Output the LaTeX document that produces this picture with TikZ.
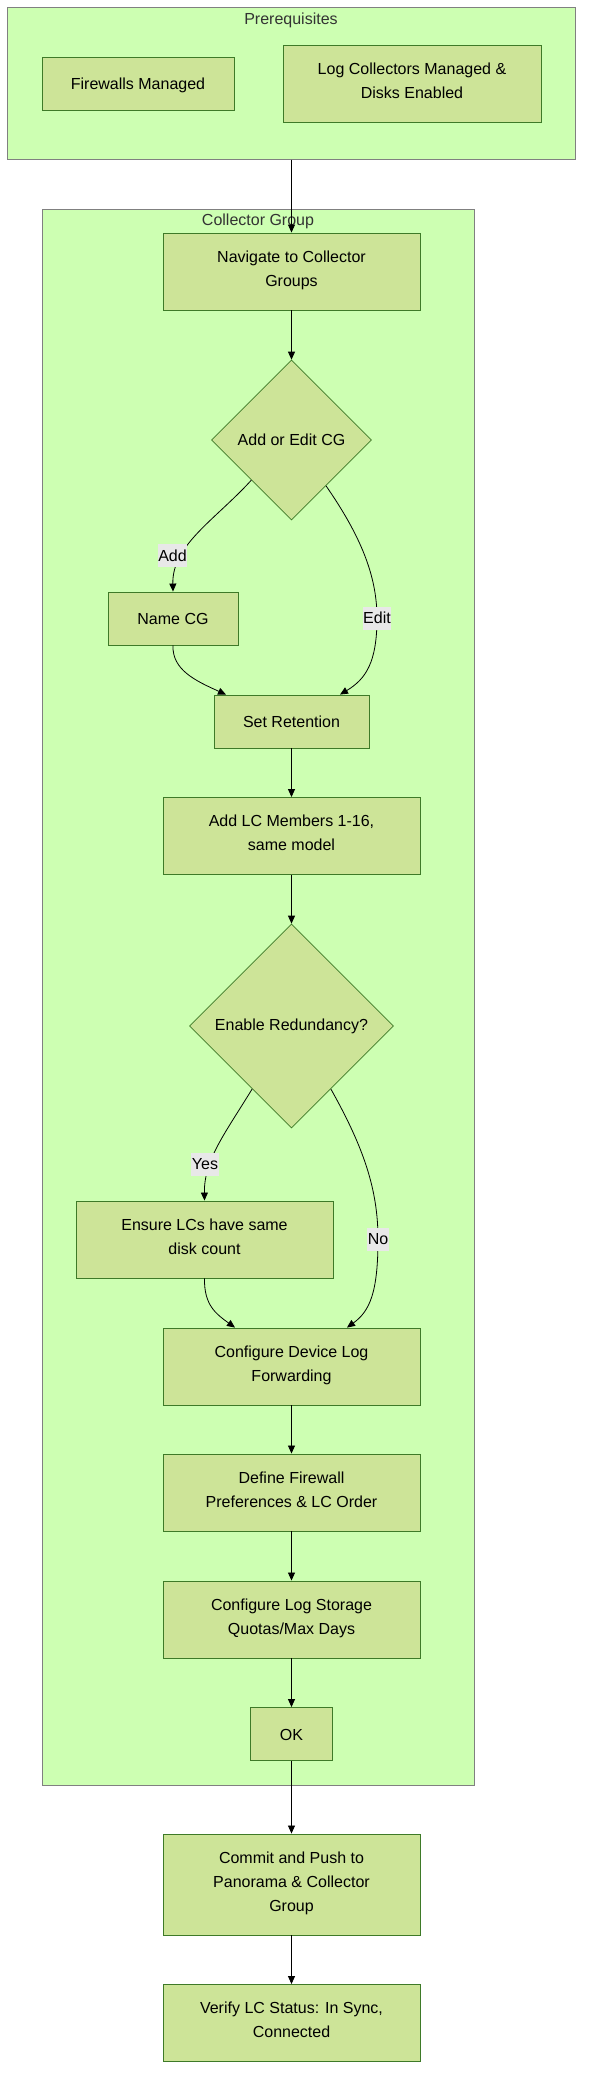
\documentclass[tikz,border=0pt]{standalone}
\usepackage{fontspec}
\setmainfont{Liberation Sans}
\usetikzlibrary{shapes.geometric,arrows.meta,calc}
\definecolor{nodefill}{HTML}{CDE498}
\definecolor{nodeline}{HTML}{3E7A28}
\definecolor{clfill}{HTML}{CDFFB2}
\definecolor{clline}{HTML}{808080}
\definecolor{lblbg}{HTML}{E8E8E8}
\definecolor{titlec}{HTML}{333333}
\newcommand{\nstrut}{\rule[-6pt]{0pt}{24pt}}
\begin{document}
\begin{tikzpicture}[x=1pt,y=-1pt,
  font=\fontsize{16}{24}\selectfont,
  cluster/.style={draw=clline, fill=clfill, line width=1pt, inner sep=0pt},
  ctitle/.style={text=titlec, inner sep=0pt},
  box/.style={draw=nodeline, fill=nodefill, line width=0.9pt, align=center, inner sep=0pt,
    execute at begin node=\nstrut, execute at end node=\nstrut},
  dec/.style={draw=nodeline, fill=nodefill, line width=0.7pt, shape=diamond, aspect=1, align=center, inner sep=0pt},
  lbl/.style={fill=lblbg, inner xsep=0.5pt, inner ysep=0pt, minimum height=23pt},
  arr/.style={draw=black, line width=0.8pt, -{Triangle[length=8pt,width=7pt]}}
]
\useasboundingbox (0,0) rectangle (591,2096);
\fill[white] (0,0) rectangle (591,2096);

% clusters
\node[cluster, minimum width=567.5pt, minimum height=152pt] (pre) at (291.25,83) {};
\node[ctitle] (pretitle) at (291,20.5) {Prerequisites};
\node[cluster, minimum width=432pt, minimum height=1576pt] (cg) at (258,997) {};
\node[ctitle] (cgtitle) at (258,221.5) {Collector Group};

% prerequisite nodes
\node[box, minimum width=192pt, minimum height=53pt] (fw) at (138,83.5) {Firewalls Managed};
\node[box, minimum width=258pt, minimum height=77pt] (lc) at (412,83.5) {Log Collectors Managed \&\\Disks Enabled};

% collector group nodes
\node[box, minimum width=257pt, minimum height=77pt] (nav) at (291.5,271.5) {Navigate to Collector\\Groups};
\node[dec, minimum width=160pt, minimum height=160pt] (d1) at (291.5,440) {Add or Edit CG};
\node[box, minimum width=130pt, minimum height=53pt] (name) at (173,618.5) {Name CG};
\node[box, minimum width=155pt, minimum height=53pt] (ret) at (291.5,721.5) {Set Retention};
\node[box, minimum width=257pt, minimum height=77pt] (lcm) at (291.5,836) {Add LC Members 1-16,\\same model};
\node[dec, minimum width=204pt, minimum height=204pt] (d2) at (291.5,1026) {Enable Redundancy?};
\node[box, minimum width=257pt, minimum height=77pt] (ens) at (204.5,1239.5) {Ensure LCs have same\\disk count};
\node[box, minimum width=257pt, minimum height=77pt] (cdl) at (291.5,1366.5) {Configure Device Log\\Forwarding};
\node[box, minimum width=257pt, minimum height=77pt] (dfw) at (291.5,1492.5) {Define Firewall\\Preferences \& LC Order};
\node[box, minimum width=257pt, minimum height=77pt] (cls) at (291.5,1619.5) {Configure Log Storage\\Quotas/Max Days};
\node[box, minimum width=82pt, minimum height=53pt] (ok) at (291.5,1734) {OK};

% after
\node[box, minimum width=257pt, minimum height=101pt] (com) at (291.5,1884.5) {Commit and Push to\\Panorama \& Collector\\Group};
\node[box, minimum width=257pt, minimum height=77pt] (ver) at (291.5,2023) {Verify LC Status: In Sync,\\Connected};

% edges
\draw[arr] (pre.south -| nav.north) -- (nav.north);
\draw[arr] (nav.south) -- (d1.north);
\draw[arr] (d1.south west) .. controls (215,520) and (172,545) .. (name.north);
\node[lbl] (ladd) at (172.5,555.5) {Add};
\draw[arr] (d1.307) .. controls (360,535) and (377,575) .. (377,618)
   .. controls (377,662) and (366,679) .. (ret.north -| 340,0);
\node[lbl] (ledit) at (377,618) {Edit};
\draw[arr] (name.south) .. controls (172,670) and (196,681) .. (ret.north -| 226,0);
\draw[arr] (ret.south) -- (lcm.north);
\draw[arr] (lcm.south) -- (d2.north);
\draw[arr] (d2.238) .. controls (224,1135) and (204,1160) .. (ens.north);
\node[lbl] (lyes) at (205,1164) {Yes};
\draw[arr] (d2.302) .. controls (364,1148) and (378,1190) .. (378,1239)
   .. controls (378,1292) and (370,1311) .. (cdl.north -| 347,0);
\node[lbl] (lno) at (378,1239) {No};
\draw[arr] (ens.south) .. controls (204,1305) and (216,1314) .. (cdl.north -| 235,0);
\draw[arr] (cdl.south) -- (dfw.north);
\draw[arr] (dfw.south) -- (cls.north);
\draw[arr] (cls.south) -- (ok.north);
\draw[arr] (ok.south) -- (com.north);
\draw[arr] (com.south) -- (ver.north);
\end{tikzpicture}
\end{document}
